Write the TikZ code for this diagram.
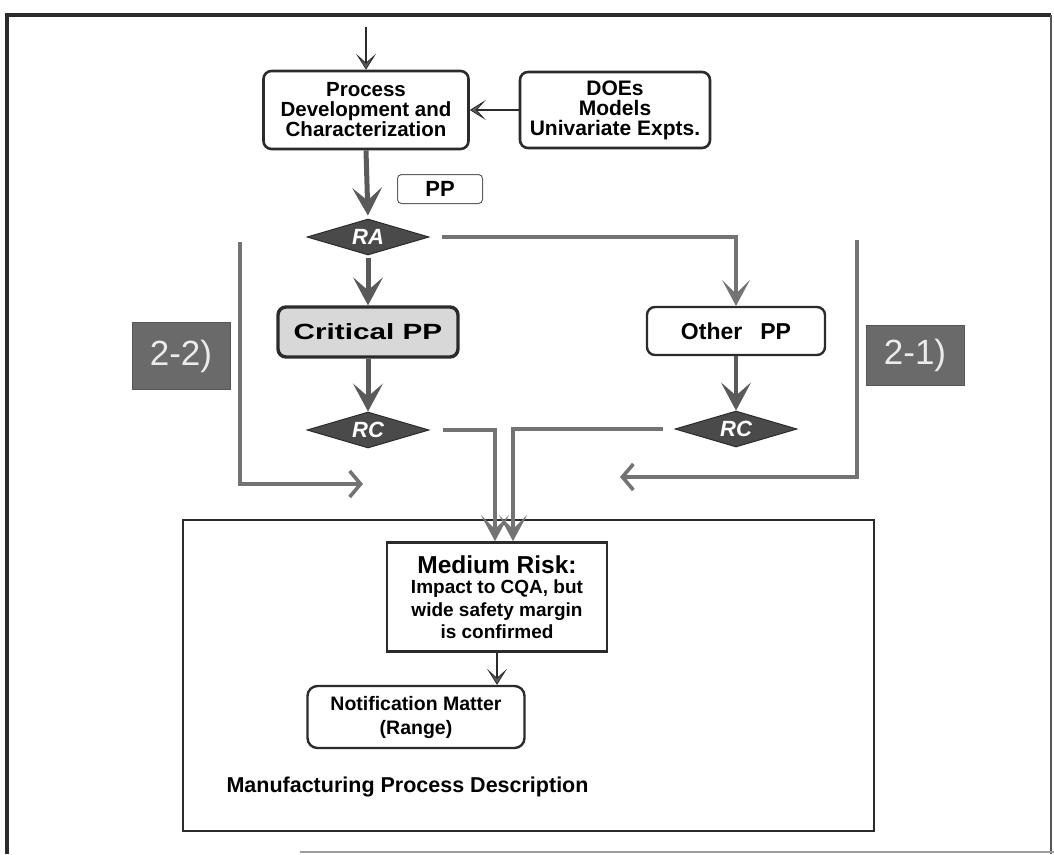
\documentclass[tikz,border=0pt]{standalone}
\usepackage{fontspec}
\setmainfont{Liberation Sans}
\newfontfamily\widesans[FakeStretch=1.35]{Liberation Sans}
\usetikzlibrary{arrows.meta,shapes.geometric,calc}

\definecolor{ink}{HTML}{2B2B2B}
\definecolor{flow}{HTML}{5A5A5A}
\definecolor{route}{HTML}{737373}
\definecolor{gemfill}{HTML}{4A4A4A}
\definecolor{tagfill}{HTML}{6A6A6A}
\definecolor{shade}{HTML}{D8D8D8}

\tikzset{
  box/.style={draw=ink, line width=2.6pt, rounded corners=8pt, fill=white,
    inner sep=0pt, align=center, font=\bfseries\fontsize{20.5}{20}\selectfont},
  gem/.style={diamond, aspect=3.4, fill=gemfill, draw=ink, line width=1pt,
    minimum width=122pt, minimum height=36pt, inner sep=0pt, text=white,
    font=\bfseries\itshape\fontsize{22}{22}\selectfont},
  tagbox/.style={fill=tagfill, draw=tagfill!80!black, line width=0.8pt,
    text=black!8, inner sep=0pt, font=\fontsize{35}{35}\selectfont},
  thinarrow/.style={draw=ink, line width=1.6pt,
    -{Stealth[length=16pt,width=20pt,inset=9pt,line width=0.8pt,fill=flow]}},
  thickarrow/.style={draw=flow, line width=5pt,
    -{Stealth[length=28pt,width=30pt,inset=13pt,line width=0.8pt,fill=flow]}},
  routearrow/.style={draw=route, line width=4pt,
    -{Stealth[length=26pt,width=28pt,inset=14pt,line width=0.8pt,fill=route]}},
  bracketarrow/.style={draw=route, line width=3.6pt, line join=miter,
    -{Straight Barb[length=11pt,width=26pt]}},
}

\begin{document}
\begin{tikzpicture}[x=1pt,y=-1pt]
\useasboundingbox (0,0) rectangle (1054,854);

% outer frame
\draw[ink, line width=3.5pt] (5,15) -- (1051,15);
\draw[ink, line width=4pt] (7,14) -- (7,854);
\draw[ink!80, line width=1.2pt] (1051,15) -- (1051,854);
\draw[route!70, line width=2pt] (300,852) -- (1054,852);

% enclosing description box
\node[draw=ink, line width=2.6pt, minimum width=691pt, minimum height=311pt,
      inner sep=0pt] (mpd) at (528.5,675.5) {};
\node[anchor=base west, font=\bfseries\fontsize{21.5}{21.5}\selectfont] (desc)
      at (223,792) {Manufacturing Process Description};

% process nodes
\node[box, minimum width=205pt, minimum height=78pt] (proc) at (366,110)
  {Process\\Development and\\Characterization};
\node[box, minimum width=190pt, minimum height=76pt,
      font=\bfseries\fontsize{21}{20}\selectfont] (doe) at (615,110)
  {DOEs\\Models\\Univariate Expts.};
\node[draw=ink!75, line width=1pt, rounded corners=4pt, minimum width=85pt,
      minimum height=29pt, inner sep=0pt, font=\bfseries\fontsize{22}{22}\selectfont]
      (pp) at (440,189) {PP};

\node[gem] (ra) at (368,237) {RA};
\node[box, fill=shade, line width=3.4pt, minimum width=180pt, minimum height=50pt,
      font=\widesans\bfseries\fontsize{22}{22}\selectfont] (crit) at (368,332)
      {Critical PP};
\node[box, line width=2.4pt, minimum width=178pt, minimum height=48pt,
      font=\bfseries\fontsize{23}{23}\selectfont] (other) at (736,331)
      {Other\hspace{18pt}PP};
\node[gem] (rcl) at (368,430) {RC};
\node[gem] (rcr) at (736,429) {RC};

\node[draw=ink, line width=2.8pt, fill=white, minimum width=220pt,
      minimum height=109pt, inner sep=0pt, align=center,
      font=\bfseries\fontsize{19}{22.5}\selectfont] (med) at (497,597)
  {{\fontsize{24.5}{24.5}\selectfont Medium Risk:}\\[-2pt]
   Impact to CQA, but\\wide safety margin\\is confirmed};
\node[box, line width=2.4pt, rounded corners=10pt, minimum width=217pt,
      minimum height=62pt, font=\bfseries\fontsize{19.5}{24}\selectfont]
      (notif) at (416,717) {Notification Matter\\(Range)};

% side labels
\node[tagbox, minimum width=98pt, minimum height=67pt] (t22) at (181,356) {2-2)};
\node[tagbox, minimum width=98pt, minimum height=60pt] (t21) at (915,355) {2-1)};

% connectors
\coordinate (entry) at (366,27);
\draw[thinarrow] (entry) -- (proc.north);
\draw[thinarrow] (doe.west) -- (proc.east);
\draw[thickarrow, shorten >=3pt] (proc.south) -- (ra.north);
\draw[routearrow, shorten <=12pt] (ra.east) -| (other.north);
\draw[thickarrow, shorten <=2pt] (ra.south) -- (crit.north);
\draw[thickarrow] (crit.south) -- (rcl.north);
\draw[thickarrow, line width=4.5pt] (other.south) -- (rcr.north);
\draw[routearrow, shorten <=13pt] (rcl.east) -| ([xshift=-2pt]med.north);
\draw[routearrow, shorten <=12pt] (rcr.west) -| ([xshift=16pt]med.north);
\draw[thinarrow] (med.south) -- (med.south |- notif.north);

% bracket routes
\coordinate (b22top) at (240,242);
\coordinate (b22end) at (363,484);
\coordinate (b21top) at (857,240);
\coordinate (b21end) at (620,477);
\draw[bracketarrow] (b22top) |- (b22end);
\draw[bracketarrow] (b21top) |- (b21end);
\end{tikzpicture}
\end{document}
